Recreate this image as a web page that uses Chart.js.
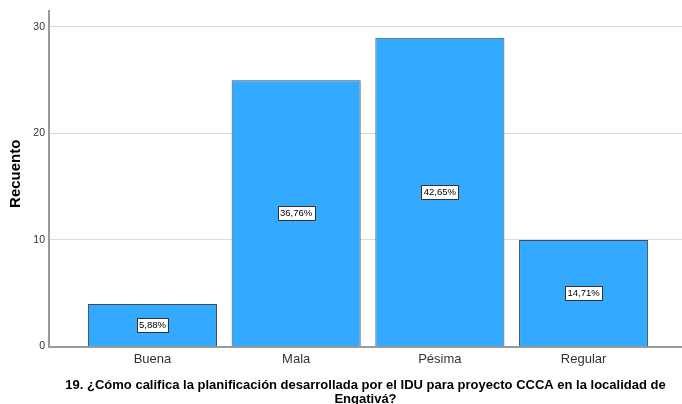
<!DOCTYPE html>
<html>
<head>
<meta charset="utf-8">
<script src="https://cdn.jsdelivr.net/npm/chart.js@4.4.1/dist/chart.umd.min.js"></script>
<style>
  html, body { margin: 0; padding: 0; background: #ffffff; }
  #wrap { width: 682px; height: 404px; position: relative; }
</style>
</head>
<body>
<div id="wrap"><canvas id="chart"></canvas></div>
<script>
// Respuestas a la pregunta 19
const categories = ['Buena', 'Mala', 'Pésima', 'Regular'];
const counts = [4, 25, 29, 10];
const yTicks = [0, 10, 20, 30];
const xTitle = ['19. ¿Cómo califica la planificación desarrollada por el IDU para proyecto CCCA en la localidad de', 'Engativá?'];
const yTitle = 'Recuento';

const total = counts.reduce((a, b) => a + b, 0);
const pctLabel = v => (v / total * 100).toFixed(2).replace('.', ',') + '%';

// Percentage box centred on each bar
const pctBoxes = {
  id: 'pctBoxes',
  afterDatasetsDraw(chart) {
    const ctx = chart.ctx;
    const meta = chart.getDatasetMeta(0);
    ctx.save();
    ctx.font = '9.5px "Liberation Sans", Arial, sans-serif';
    ctx.textAlign = 'center';
    ctx.textBaseline = 'middle';
    meta.data.forEach((bar, i) => {
      const txt = pctLabel(counts[i]);
      const cx = bar.x;
      const cy = Math.round((bar.y + bar.base) / 2);
      const w = Math.ceil(ctx.measureText(txt).width) + 4;
      const h = 14;
      const x0 = Math.round(cx - w / 2) + 0.5;
      const y0 = Math.round(cy - h / 2) + 0.5;
      ctx.fillStyle = '#ffffff';
      ctx.fillRect(x0, y0, w, h);
      ctx.strokeStyle = '#333333';
      ctx.lineWidth = 1;
      ctx.strokeRect(x0, y0, w, h);
      ctx.fillStyle = '#000000';
      ctx.fillText(txt, cx, cy + 0.5);
    });
    ctx.restore();
  }
};

// Axis titles
const axisTitles = {
  id: 'axisTitles',
  afterDraw(chart) {
    const ctx = chart.ctx;
    const area = chart.chartArea;
    ctx.save();
    ctx.fillStyle = '#000000';
    ctx.textAlign = 'center';
    ctx.textBaseline = 'middle';
    ctx.font = 'bold 13px "Liberation Sans", Arial, sans-serif';
    const cx = (area.left + area.right) / 2;
    ctx.fillText(xTitle[0], cx, 385);
    ctx.fillText(xTitle[1], cx, 399);
    ctx.translate(16, (area.top + area.bottom) / 2 - 5);
    ctx.rotate(-Math.PI / 2);
    ctx.font = 'bold 15px "Liberation Sans", Arial, sans-serif';
    ctx.fillText(yTitle, 0, 0);
    ctx.restore();
  }
};

new Chart(document.getElementById('chart'), {
  type: 'bar',
  data: {
    datasets: [{
      data: counts.map((v, i) => ({ x: i, y: v })),
      backgroundColor: '#33aaff',
      borderColor: '#3b4d5c',
      borderWidth: 1,
      categoryPercentage: 1,
      barPercentage: 0.898
    }]
  },
  options: {
    responsive: true,
    maintainAspectRatio: false,
    animation: false,
    devicePixelRatio: 1,
    layout: { padding: { top: 11, right: 0, left: 0, bottom: 0 } },
    plugins: {
      legend: { display: false },
      tooltip: { enabled: false }
    },
    scales: {
      x: {
        type: 'linear',
        min: -0.72,
        max: 3.685,
        offset: false,
        afterBuildTicks: s => { s.ticks = categories.map((c, i) => ({ value: i })); },
        afterFit: s => { s.height = 57.5; },
        grid: { display: false, drawTicks: false },
        border: { display: true, color: '#9a9a9a', width: 2 },
        ticks: {
          autoSkip: false,
          maxRotation: 0,
          padding: 5,
          color: '#333333',
          font: { family: '"Liberation Sans", Arial, sans-serif', size: 13 },
          callback: v => categories[v]
        }
      },
      y: {
        min: 0,
        max: 31.5,
        afterBuildTicks: s => { s.ticks = yTicks.map(v => ({ value: v })); },
        afterFit: s => { s.width = 49; },
        grid: { color: '#d9d9d9', lineWidth: 1, drawTicks: false },
        border: { display: true, color: '#9a9a9a', width: 2 },
        ticks: {
          padding: 4,
          color: '#333333',
          font: { family: '"Liberation Sans", Arial, sans-serif', size: 10.5 }
        }
      }
    }
  },
  plugins: [pctBoxes, axisTitles]
});
</script>
</body>
</html>
